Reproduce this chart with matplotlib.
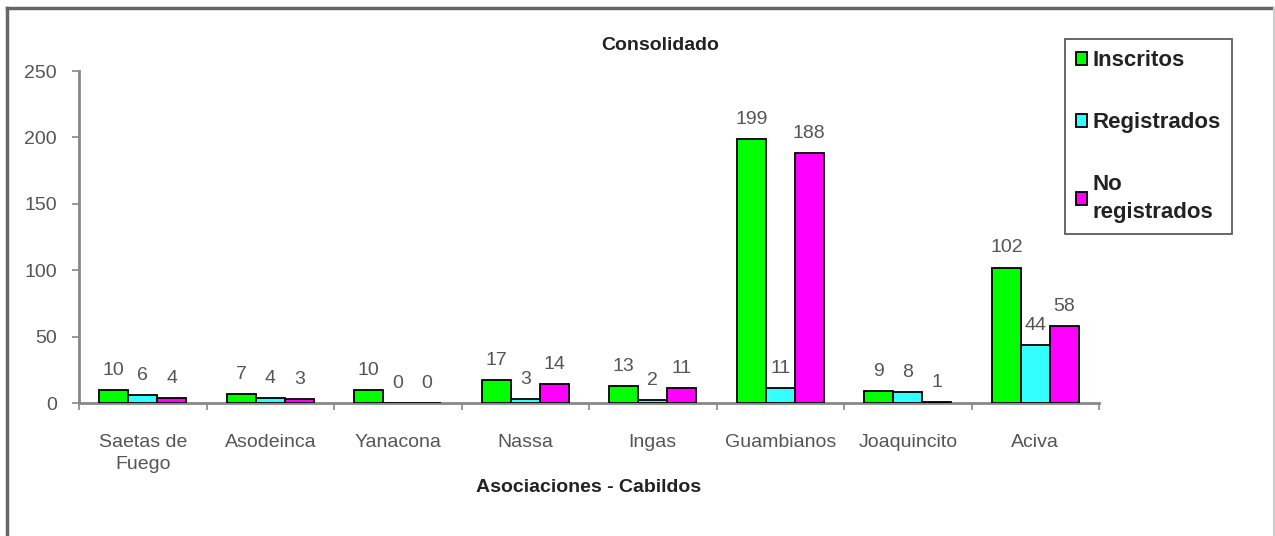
import matplotlib.pyplot as plt
import numpy as np
from matplotlib.lines import Line2D

# datos del consolidado
categorias = ["Saetas de\nFuego", "Asodeinca", "Yanacona", "Nassa", "Ingas",
              "Guambianos", "Joaquincito", "Aciva"]
inscritos = [10, 7, 10, 17, 13, 199, 9, 102]
registrados = [6, 4, 0, 3, 2, 11, 8, 44]
no_registrados = [4, 3, 0, 14, 11, 188, 1, 58]
series = ["Inscritos", "Registrados", "No\nregistrados"]
colores = ["#00ff00", "#33ffff", "#ff00ff"]

plt.rcParams['font.family'] = ['Liberation Sans', 'DejaVu Sans']

fig = plt.figure(figsize=(12.75, 5.36), dpi=100)
ax = fig.add_axes([0.062, 0.248, 0.800, 0.6195])

x = np.arange(len(categorias))
ancho = 0.227
gris = "#555555"
for i, (vals, col) in enumerate(zip([inscritos, registrados, no_registrados], colores)):
    pos = x + (i - 1) * ancho
    ax.bar(pos, vals, ancho, color=col, edgecolor="black", linewidth=1.3,
           label=series[i], zorder=3)
    for p, v in zip(pos, vals):
        ax.annotate(str(v), (p, v), xytext=(0, 8), textcoords="offset points",
                    ha="center", va="bottom", fontsize=14, color=gris)

ax.set_xlim(-0.5, len(categorias) - 0.5)
ax.set_ylim(0, 250)
ax.set_yticks(range(0, 251, 50))
ax.tick_params(axis="y", labelsize=14, labelcolor=gris, color="#888888", length=5, width=1.2, pad=11)
ax.set_xticks(x)
ax.set_xticklabels(categorias, fontsize=14, color=gris, linespacing=1.45)
ax.set_xticks(np.arange(-0.5, len(categorias)), minor=True)
ax.tick_params(axis="x", which="major", length=0, pad=22)
ax.tick_params(axis="x", which="minor", length=5, width=1.2, color="#888888")

for s in ["top", "right"]:
    ax.spines[s].set_visible(False)
for s in ["left", "bottom"]:
    ax.spines[s].set_color("#888888")
    ax.spines[s].set_linewidth(2)

ax.set_xlabel("Asociaciones - Cabildos", fontsize=14, fontweight="bold", color="#222222", labelpad=4)
fig.text(0.518, 0.916, "Consolidado", ha="center", va="center", fontsize=14,
         fontweight="bold", color="#222222")

leg = ax.legend(loc="upper left", bbox_to_anchor=(1065/1275, 1 - 39/536),
                bbox_transform=fig.transFigure,
                prop={"size": 16, "weight": "bold"},
                frameon=True, fancybox=False, edgecolor="#333333", labelspacing=1.85,
                handlelength=0.5, handleheight=0.5, handletextpad=0.25, borderpad=0.5,
                borderaxespad=0)
leg.get_frame().set_linewidth(1.3)
for t in leg.get_texts():
    t.set_color("#222222")
    t.set_linespacing(1.4)

# marco de la figura
fig.add_artist(Line2D([7/1275, 7/1275], [0, 1 - 8/536], color="#666666", lw=2.5))
fig.add_artist(Line2D([7/1275, 1], [1 - 8/536, 1 - 8/536], color="#666666", lw=2.5))
fig.add_artist(Line2D([1274/1275, 1274/1275], [0, 1 - 8/536], color="#cccccc", lw=1.5))

fig.savefig("out.png", dpi=100)
